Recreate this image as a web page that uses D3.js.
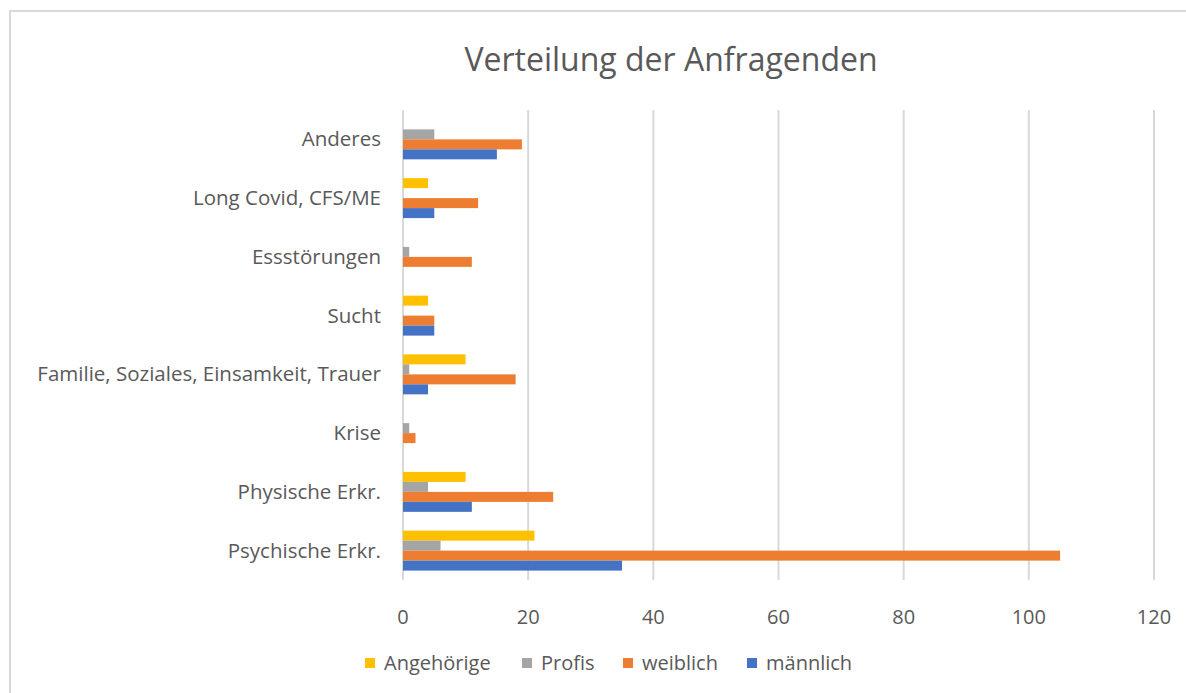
<!DOCTYPE html>
<html>
<head>
<meta charset="utf-8">
<script src="https://cdn.jsdelivr.net/npm/d3@7"></script>
<style>
  body { margin: 0; background: #fff; }
  text { font-family: "Open Sans", "Liberation Sans", sans-serif; fill: #595959; }
</style>
</head>
<body>
<svg id="chart"></svg>
<script>
// Kategorien van boven naar beneden
const categories = ["Anderes", "Long Covid, CFS/ME", "Essstörungen", "Sucht",
  "Familie, Soziales, Einsamkeit, Trauer", "Krise", "Physische Erkr.", "Psychische Erkr."];
const seriesNames = ["Angehörige", "Profis", "weiblich", "männlich"];
const seriesColors = ["#ffc000", "#a5a5a5", "#ed7d31", "#4472c4"];

const angehoerige = [0, 4, 0, 4, 10, 0, 10, 21];
const profis = [5, 0, 1, 0, 1, 1, 4, 6];
const weiblich = [19, 12, 11, 5, 18, 2, 24, 105];
const maennlich = [15, 5, 0, 5, 4, 0, 11, 35];
const xTicks = [0, 20, 40, 60, 80, 100, 120];

const width = 1186;
const height = 693;
const margin = { top: 110, right: 32, bottom: 113, left: 403 };

const svg = d3.select('#chart')
  .attr('width', width)
  .attr('height', height);

// kader rond de grafiek
svg.append('rect')
  .attr('x', 10).attr('y', 11)
  .attr('width', width).attr('height', height)
  .attr('fill', 'none')
  .attr('stroke', '#d9d9d9')
  .attr('stroke-width', 2);

const x = d3.scaleLinear()
  .domain([0, 120])
  .range([margin.left, width - margin.right]);

const y = d3.scaleBand()
  .domain(categories)
  .range([margin.top, height - margin.bottom])
  .paddingInner(0.32)
  .paddingOuter(0.16);

const ySub = d3.scaleBand()
  .domain(seriesNames)
  .range([0, y.bandwidth()]);

// gridlijnen
svg.append('g')
  .selectAll('line')
  .data(xTicks)
  .join('line')
  .attr('x1', d => x(d)).attr('x2', d => x(d))
  .attr('y1', margin.top).attr('y2', height - margin.bottom)
  .attr('stroke', '#d9d9d9')
  .attr('stroke-width', 2);

// x-as labels
svg.append('g')
  .selectAll('text')
  .data(xTicks)
  .join('text')
  .attr('x', d => x(d))
  .attr('y', 624)
  .attr('text-anchor', 'middle')
  .attr('font-size', 20)
  .text(d => d);

// categorie labels
svg.append('g')
  .selectAll('text')
  .data(categories)
  .join('text')
  .attr('x', 381)
  .attr('y', d => y(d) + y.bandwidth() / 2 + 7)
  .attr('text-anchor', 'end')
  .attr('font-size', 20.5)
  .text(d => d);

const series = [angehoerige, profis, weiblich, maennlich];
const rows = [];
series.forEach((values, s) => {
  values.forEach((v, i) => {
    rows.push({ cat: categories[i], name: seriesNames[s], color: seriesColors[s], value: v });
  });
});

svg.append('g')
  .selectAll('rect')
  .data(rows.filter(d => d.value > 0))
  .join('rect')
  .attr('x', x(0))
  .attr('y', d => y(d.cat) + ySub(d.name))
  .attr('width', d => x(d.value) - x(0))
  .attr('height', ySub.bandwidth())
  .attr('fill', d => d.color);

// titel
svg.append('text')
  .attr('x', 671)
  .attr('y', 71)
  .attr('text-anchor', 'middle')
  .attr('font-size', 32)
  .text('Verteilung der Anfragenden');

// legenda
const legendX = [365, 522, 623, 747];
const legend = svg.append('g')
  .selectAll('g')
  .data(seriesNames)
  .join('g')
  .attr('transform', (d, i) => `translate(${legendX[i]},658)`);

legend.append('rect')
  .attr('width', 10).attr('height', 10)
  .attr('fill', (d, i) => seriesColors[i]);

legend.append('text')
  .attr('x', 19)
  .attr('y', 12)
  .attr('font-size', 20)
  .text(d => d);
</script>
</body>
</html>
